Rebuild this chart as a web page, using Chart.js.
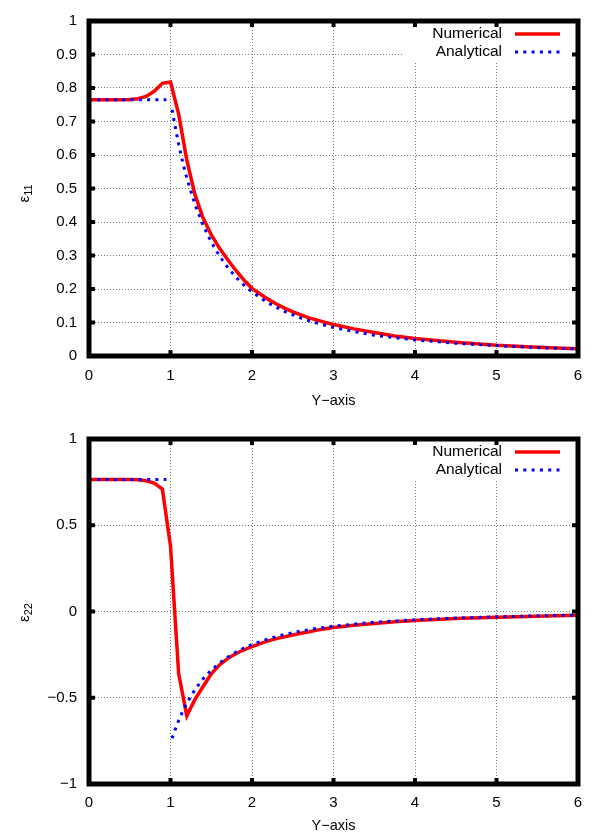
<!DOCTYPE html>
<html>
<head>
<meta charset="utf-8">
<script src="https://cdn.jsdelivr.net/npm/chart.js@4"></script>
<style>
  body { margin: 0; background: #fff; }
  canvas { display: block; }
</style>
</head>
<body>
<canvas id="c11" width="599" height="418"></canvas>
<canvas id="c22" width="599" height="418"></canvas>
<script>
// sample positions along the Y axis
const xNum = [0, 0.1, 0.2, 0.3, 0.4, 0.5, 0.6, 0.7, 0.8, 0.9, 1.0,
  1.1, 1.2, 1.3, 1.4, 1.5, 1.6, 1.7, 1.8, 1.9, 2.0,
  2.1, 2.2, 2.3, 2.4, 2.5, 2.6, 2.7, 2.8, 2.9, 3.0,
  3.25, 3.5, 3.75, 4.0, 4.5, 5.0, 5.5, 6.0];
const xAna = [0, 0.95, 0.97, 1.02, 1.05, 1.1, 1.15, 1.2, 1.3, 1.4, 1.5, 1.6, 1.7, 1.8, 1.9, 2.0,
  2.2, 2.4, 2.6, 2.8, 3.0, 3.5, 4.0, 4.5, 5.0, 5.5, 6.0];

// eps11
const e11Num = [0.765, 0.765, 0.765, 0.765, 0.765, 0.766, 0.768, 0.775, 0.79, 0.814, 0.818,
  0.722, 0.585, 0.482, 0.412, 0.362, 0.322, 0.288, 0.256, 0.227, 0.202,
  0.185, 0.169, 0.155, 0.143, 0.132, 0.123, 0.114, 0.107, 0.100, 0.094,
  0.081, 0.070, 0.060, 0.052, 0.041, 0.032, 0.026, 0.022];
const e11Ana = [0.765, 0.765, null, 0.735, 0.694, 0.632, 0.578, 0.531, 0.453, 0.390, 0.340, 0.299, 0.265, 0.236, 0.212, 0.191,
  0.158, 0.133, 0.113, 0.098, 0.085, 0.062, 0.048, 0.038, 0.031, 0.025, 0.021];

// eps22
const e22Num = [0.765, 0.765, 0.765, 0.765, 0.765, 0.765, 0.764, 0.758, 0.745, 0.71, 0.38,
  -0.36, -0.605, -0.51, -0.435, -0.362, -0.31, -0.273, -0.245, -0.222, -0.204,
  -0.186, -0.170, -0.157, -0.146, -0.136, -0.126, -0.117, -0.108, -0.100, -0.093,
  -0.080, -0.069, -0.060, -0.052, -0.041, -0.033, -0.027, -0.022];
const e22Ana = [0.765, 0.765, null, -0.735, -0.694, -0.632, -0.578, -0.531, -0.453, -0.390, -0.340, -0.299, -0.265, -0.236, -0.212, -0.191,
  -0.158, -0.133, -0.113, -0.098, -0.085, -0.062, -0.048, -0.038, -0.031, -0.025, -0.021];

const seriesNames = ["Numerical", "Analytical"];
const FONT = "'Liberation Sans', Arial, sans-serif";
const RED = "#ff0000";
const BLUE = "#0000ff";
const DOTS = [3, 5.3];

const minus = v => String(v).replace("-", "\u2212");

// frame, inward ticks, key and y label (gnuplot look)
const gnuplotStyle = {
  id: "gnuplotStyle",
  beforeDatasetsDraw(chart, args, opts) {
    const { ctx, chartArea: a } = chart;
    ctx.save();
    ctx.fillStyle = "#fff";
    ctx.fillRect(a.right - 175, a.top + 3, 172, 37);
    ctx.restore();
  },
  afterDraw(chart, args, opts) {
    const { ctx, chartArea: a, scales } = chart;
    ctx.save();

    // key
    ctx.font = "15.5px " + FONT;
    ctx.textAlign = "right";
    ctx.textBaseline = "middle";
    ctx.fillStyle = "#000";
    chart.data.datasets.forEach((ds, i) => {
      const y = a.top + 13 + i * 18;
      ctx.fillText(ds.label, a.right - 76, y);
      ctx.beginPath();
      ctx.strokeStyle = ds.borderColor;
      ctx.lineWidth = ds.borderWidth;
      ctx.setLineDash(ds.borderDash || []);
      ctx.moveTo(a.right - 63, y);
      ctx.lineTo(a.right - 18, y);
      ctx.stroke();
    });
    ctx.setLineDash([]);

    // tick marks on all four sides
    ctx.strokeStyle = "#000";
    ctx.lineWidth = 4;
    const seg = (x1, y1, x2, y2) => {
      ctx.beginPath(); ctx.moveTo(x1, y1); ctx.lineTo(x2, y2); ctx.stroke();
    };
    scales.x.ticks.forEach(t => {
      const px = scales.x.getPixelForValue(t.value);
      seg(px, a.bottom, px, a.bottom - 6);
      seg(px, a.top, px, a.top + 6);
    });
    scales.y.ticks.forEach(t => {
      const py = scales.y.getPixelForValue(t.value);
      seg(a.left, py, a.left + 6, py);
      seg(a.right, py, a.right - 6, py);
    });

    // border
    ctx.lineWidth = 5;
    ctx.strokeRect(a.left, a.top, a.right - a.left, a.bottom - a.top);

    // y label with subscript
    ctx.translate(opts.labelX, (a.top + a.bottom) / 2 + opts.labelShift);
    ctx.rotate(-Math.PI / 2);
    ctx.textAlign = "left";
    ctx.textBaseline = "alphabetic";
    ctx.font = "15px " + FONT;
    const w = ctx.measureText("\u03b5").width;
    ctx.font = "11px " + FONT;
    const sw = ctx.measureText(opts.sub).width;
    const x0 = -(w + sw) / 2;
    ctx.font = "15px " + FONT;
    ctx.fillText("\u03b5", x0, 5);
    ctx.font = "11px " + FONT;
    ctx.fillText(opts.sub, x0 + w, 8);
    ctx.restore();
  }
};

function makeChart(id, numVals, anaVals, yMin, yMax, yStep, sub, layout) {
  const numPts = xNum.map((x, i) => ({ x: x, y: numVals[i] }));
  const anaPts = xAna.map((x, i) => ({ x: x, y: anaVals[i] }));
  return new Chart(document.getElementById(id), {
    type: "line",
    data: {
      datasets: [
        {
          label: seriesNames[0],
          data: numPts,
          borderColor: RED,
          borderWidth: 3.5,
          pointRadius: 0,
          tension: 0,
          order: 2
        },
        {
          label: seriesNames[1],
          data: anaPts,
          borderColor: BLUE,
          borderWidth: 3,
          borderDash: DOTS,
          borderCapStyle: "butt",
          pointRadius: 0,
          spanGaps: false,
          tension: 0,
          order: 1
        }
      ]
    },
    plugins: [gnuplotStyle],
    options: {
      responsive: false,
      animation: false,
      devicePixelRatio: 1,
      layout: { padding: { top: layout.top, right: 21, left: 0, bottom: 0 } },
      plugins: {
        legend: { display: false },
        tooltip: { enabled: false },
        gnuplotStyle: { sub: sub, labelX: 24, labelShift: layout.labelShift }
      },
      scales: {
        x: {
          type: "linear",
          min: 0,
          max: 6,
          ticks: {
            stepSize: 1,
            color: "#000",
            font: { family: FONT, size: 15 },
            padding: layout.tickPad,
            maxRotation: 0
          },
          grid: { color: "#777", lineWidth: 1, drawTicks: false },
          border: { display: false, dash: [1, 2] },
          title: {
            display: true,
            text: "Y\u2212axis",
            color: "#000",
            font: { family: FONT, size: 14.5 },
            padding: { top: 0, bottom: layout.titlePad }
          },
          afterFit: s => { s.height = layout.xHeight; }
        },
        y: {
          min: yMin,
          max: yMax,
          ticks: {
            stepSize: yStep,
            color: "#000",
            font: { family: FONT, size: 15 },
            padding: 12,
            callback: v => minus(Math.round(v * 10) / 10)
          },
          grid: { color: "#777", lineWidth: 1, drawTicks: false },
          border: { display: false, dash: [1, 2] },
          afterFit: s => { s.width = 89; }
        }
      }
    }
  });
}

makeChart("c11", e11Num, e11Ana, 0, 1, 0.1, "11",
  { top: 8, xHeight: 62, tickPad: 11, titlePad: 8, labelShift: 5 });
makeChart("c22", e22Num, e22Ana, -1, 1, 0.5, "22",
  { top: 15, xHeight: 52, tickPad: 10, titlePad: 1, labelShift: 1 });
</script>
</body>
</html>
